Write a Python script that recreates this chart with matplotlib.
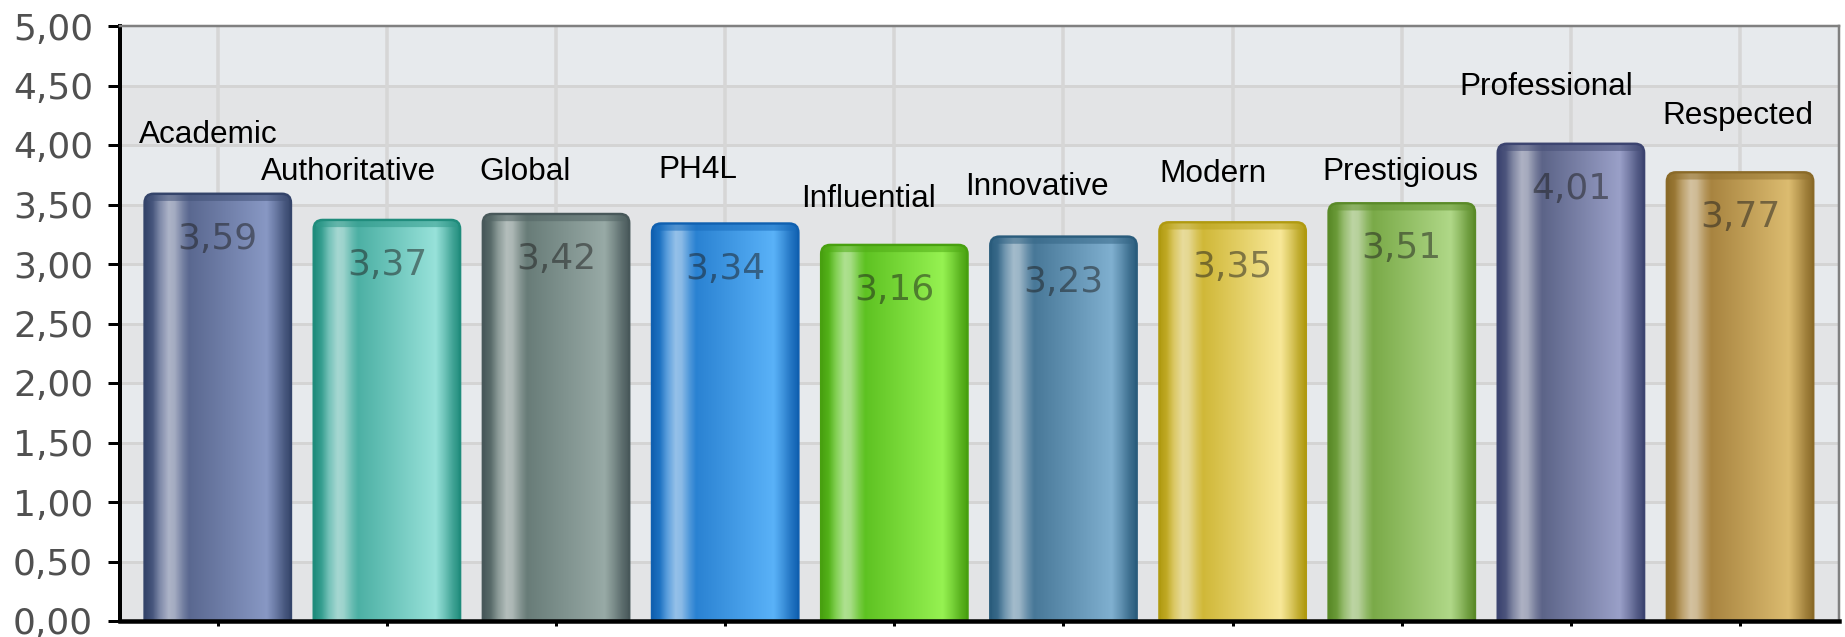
import numpy as np
import matplotlib
matplotlib.use("Agg")
from matplotlib import pyplot as plt
from matplotlib.colors import to_rgb
from matplotlib.patches import FancyBboxPatch

# chart data
categories = ["Academic", "Authoritative", "Global", "PH4L", "Influential",
              "Innovative", "Modern", "Prestigious", "Professional", "Respected"]
values = [3.59, 3.37, 3.42, 3.34, 3.16, 3.23, 3.35, 3.51, 4.01, 3.77]
y_ticks = [0.0, 0.5, 1.0, 1.5, 2.0, 2.5, 3.0, 3.5, 4.0, 4.5, 5.0]

# bar colours: (edge/dark, mid, light)
bar_colours = [
    ("#34446a", "#5a6890", "#8898c4"),
    ("#208c7c", "#4cb0a4", "#98e2da"),
    ("#48585a", "#687c78", "#98aaa6"),
    ("#1060b0", "#2a82d2", "#5ab2f8"),
    ("#48a010", "#5ec222", "#96f252"),
    ("#2a5c7c", "#487898", "#80b0d0"),
    ("#b09a10", "#d0b838", "#f8e898"),
    ("#5a8a28", "#7aaa48", "#b0d888"),
    ("#3c4470", "#5c6488", "#9aa0c8"),
    ("#8a6a28", "#a88440", "#dcbc70"),
]

# label layout: height (axis units) and x offset (px) of category names
label_y = [4.08, 3.77, 3.77, 3.79, 3.55, 3.65, 3.76, 3.77, 4.49, 4.24]
label_dx = [-10, -38, -31, -27, -26, -27, -20, -1, -25, -2]

W, H, DPI = 1845, 637, 100
PX = 72 / DPI  # points per pixel
BAR_W = 0.865
NUM_FONT = "DejaVu Sans"
TXT_FONT = "Liberation Sans"


def mix(a, b, t):
    a, b = np.array(to_rgb(a)), np.array(to_rgb(b))
    return a * (1 - t) + b * t


def bar_gradient(dark, mid, light, n=240):
    stops = [
        (0.00, mix(dark, dark, 0)),
        (0.05, mix(dark, mid, 0.5)),
        (0.10, mix(mid, "white", 0.22)),
        (0.16, mix(mid, "white", 0.5)),
        (0.20, mix(mid, "white", 0.45)),
        (0.26, mix(mid, "white", 0.15)),
        (0.30, mix(mid, mid, 0)),
        (0.83, mix(light, light, 0)),
        (0.89, mix(light, dark, 0.35)),
        (0.95, mix(light, dark, 0.75)),
        (1.00, mix(dark, dark, 0)),
    ]
    pos = np.array([s[0] for s in stops])
    cols = np.array([s[1] for s in stops])
    xs = np.linspace(0, 1, n)
    img = np.stack([np.interp(xs, pos, cols[:, k]) for k in range(3)], axis=-1)
    return img[np.newaxis, :, :]


fig = plt.figure(figsize=(W / DPI, H / DPI), dpi=DPI)
ax = fig.add_axes([120 / W, 16 / H, 1719 / W, 595 / H])

x = np.arange(len(categories))
ax.set_xlim(-0.578, len(categories) - 1 + 0.585)
ax.set_ylim(0, 5)

# alternating background bands
for i in range(len(y_ticks) - 1):
    shade = "#e3e4e6" if i % 2 == 0 else "#e7eaed"
    ax.axhspan(y_ticks[i], y_ticks[i + 1], color=shade, zorder=0, lw=0)

for yv in y_ticks[1:-1]:
    ax.axhline(yv, color="#d4d4d4", lw=3 * PX, zorder=1)
for xv in x:
    ax.axvline(xv, color="#d6d6d6", lw=3.5 * PX, zorder=1)

# cylindrical bars with rounded tops
rx, ry = 0.053, 0.076
for xi, v, (dark, mid, light) in zip(x, values, bar_colours):
    x0 = xi - BAR_W / 2
    patch = FancyBboxPatch(
        (x0, -0.3), BAR_W, v + 0.3,
        boxstyle=f"round,pad=0,rounding_size={rx}",
        mutation_aspect=ry / rx,
        facecolor="none", edgecolor=dark, lw=2.5 * PX, zorder=3,
    )
    ax.add_patch(patch)
    im = ax.imshow(bar_gradient(dark, mid, light), extent=(x0, x0 + BAR_W, 0, v),
                   aspect="auto", interpolation="bilinear", zorder=2)
    im.set_clip_path(patch)
    # darker rim at the top of each cylinder
    rim = FancyBboxPatch(
        (x0 + 0.01, v - 0.06), BAR_W - 0.02, 0.05,
        boxstyle="round,pad=0,rounding_size=0.02", mutation_aspect=1.4,
        facecolor=mix(dark, mid, 0.35), edgecolor="none", alpha=0.55, zorder=2.5,
    )
    ax.add_patch(rim)
    rim.set_clip_path(patch)
    ax.annotate(f"{v:.2f}".replace(".", ","), (xi, v), xytext=(0, -45 * PX),
                textcoords="offset points", ha="center", va="center",
                fontsize=36 * PX, family=NUM_FONT, color="#1c1c1c", alpha=0.5,
                zorder=4)

ax.set_xlim(-0.578, len(categories) - 1 + 0.585)
ax.set_ylim(0, 5)

# category names floating above the bars
for xi, name, ly, dx in zip(x, categories, label_y, label_dx):
    ax.annotate(name, (xi, ly), xytext=(dx * PX, 0), textcoords="offset points",
                ha="center", va="center", fontsize=31.5 * PX, family=TXT_FONT,
                color="black", zorder=5)

ax.set_yticks(y_ticks)
ax.set_yticklabels([f"{t:.2f}".replace(".", ",") for t in y_ticks],
                   family=NUM_FONT, fontsize=36 * PX, color="#505050")
ax.set_xticks(x)
ax.set_xticklabels([])
ax.tick_params(axis="y", length=12 * PX, width=3 * PX, pad=15 * PX, color="black")
ax.tick_params(axis="x", length=5 * PX, width=3 * PX, color="black")

for side in ("top", "right"):
    ax.spines[side].set_color("#808080")
    ax.spines[side].set_linewidth(2.5 * PX)
ax.spines["left"].set_color("black")
ax.spines["left"].set_linewidth(4 * PX)
ax.spines["bottom"].set_color("black")
ax.spines["bottom"].set_linewidth(4.5 * PX)
for sp in ax.spines.values():
    sp.set_zorder(6)

fig.savefig("out.png", dpi=DPI)
